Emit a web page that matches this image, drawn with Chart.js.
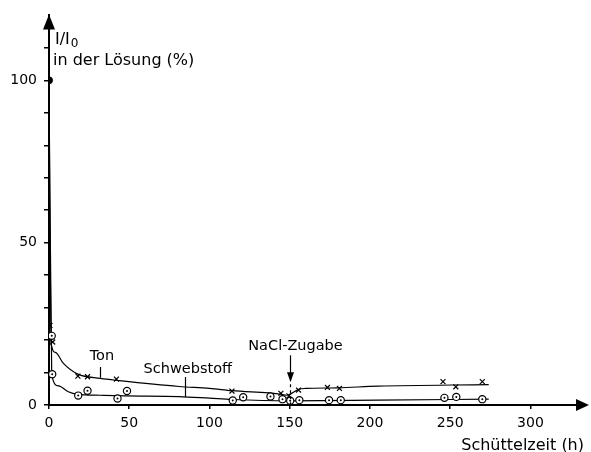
<!DOCTYPE html>
<html>
<head>
<meta charset="utf-8">
<script src="https://cdn.jsdelivr.net/npm/chart.js@4/dist/chart.umd.min.js"></script>
<style>
  html, body { margin: 0; padding: 0; background: #fff; }
  canvas { display: block; }
</style>
</head>
<body>
<canvas id="c" width="591" height="452"></canvas>
<script>
// Shaking time (h) and remaining fraction I/I0 in solution (%)
const startTime = [0];
const startValue = [100];

const tonTime  = [0.6, 2.3, 18, 24, 42, 114, 144.5, 149.5, 155.5, 173.5, 181, 245.5, 253.5, 270];
const tonValue = [24.5, 19.4, 8.9, 8.7, 8.0, 4.3, 3.6, 2.8, 4.6, 5.4, 5.1, 7.2, 5.6, 7.2];

const schwebTime  = [1.7, 2, 18.2, 24, 42.7, 48.6, 114.5, 121, 138, 145.5, 150.3, 156, 174.5, 181.8, 246.4, 253.8, 270];
const schwebValue = [21.3, 9.5, 2.9, 4.4, 2.0, 4.3, 1.4, 2.4, 2.6, 1.8, 1.3, 1.5, 1.5, 1.5, 2.2, 2.5, 1.8];

// Hand-fitted trend curves
const tonFitTime  = [0, 1.2, 4, 9, 18, 32, 44, 81, 100, 114, 145, 148, 156, 160, 180, 205, 274];
const tonFitValue = [100, 19.5, 16.2, 12.8, 9.5, 8.2, 7.5, 5.7, 5.1, 4.4, 3.3, 3.0, 4.9, 5.1, 5.3, 5.8, 6.3];

const schwebFitTime  = [0, 1.7, 6, 12, 18, 32, 48, 81, 100, 114, 150, 205, 274];
const schwebFitValue = [100, 9.2, 5.9, 4.1, 3.3, 3.0, 2.8, 2.6, 2.1, 1.7, 1.3, 1.5, 1.8];

const xTickStep = 50;
const xLabelMax = 300;
const yTickStep = 10;
const yLabelStep = 50;
const yLabelMax = 100;

// Curve labels with leader lines: [text, textX, textY, leaderX, leaderTop, leaderBottom]
const curveLabels = [
  ['Ton', 33, 15.1, 32, 11.7, 8.4],
  ['Schwebstoff', 86.5, 11.1, 84.5, 8.6, 2.5]
];
const naclTime = 150;
const naclLabel = 'NaCl-Zugabe';

const FONT = 'DejaVu Sans';

const pairs = (xs, ys) => xs.map((v, i) => ({ x: v, y: ys[i] }));

const annotations = {
  id: 'annotations',
  afterDraw(chart) {
    const { ctx, scales: { x, y } } = chart;
    ctx.save();
    ctx.fillStyle = '#000';
    ctx.strokeStyle = '#000';

    // axis arrowheads
    const x0 = x.getPixelForValue(0), y0 = y.getPixelForValue(0);
    ctx.beginPath();
    ctx.moveTo(x0, y.top - 1);
    ctx.lineTo(x0 - 6, y.top + 14);
    ctx.lineTo(x0 + 6, y.top + 14);
    ctx.closePath();
    ctx.fill();
    ctx.beginPath();
    ctx.moveTo(x.right + 4, y0);
    ctx.lineTo(x.right - 9, y0 - 6);
    ctx.lineTo(x.right - 9, y0 + 6);
    ctx.closePath();
    ctx.fill();

    // y axis title
    ctx.textBaseline = 'alphabetic';
    ctx.textAlign = 'left';
    ctx.font = `16px "${FONT}"`;
    ctx.fillText('I/I', 55, 44);
    const w = ctx.measureText('I/I').width;
    ctx.font = `12px "${FONT}"`;
    ctx.fillText('0', 55 + w + 1, 47);
    ctx.font = `16px "${FONT}"`;
    ctx.fillText('in der Lösung (%)', 53, 65);

    // x axis title
    ctx.textAlign = 'right';
    ctx.fillText('Schüttelzeit (h)', 584, 450);

    // curve labels
    ctx.font = `14.5px "${FONT}"`;
    ctx.lineWidth = 1.2;
    ctx.textAlign = 'center';
    ctx.textBaseline = 'middle';
    curveLabels.forEach(([t, tx, ty, lx, l1, l2]) => {
      ctx.fillText(t, x.getPixelForValue(tx), y.getPixelForValue(ty));
      ctx.beginPath();
      ctx.moveTo(Math.round(x.getPixelForValue(lx)) + 0.5, y.getPixelForValue(l1));
      ctx.lineTo(Math.round(x.getPixelForValue(lx)) + 0.5, y.getPixelForValue(l2));
      ctx.stroke();
    });

    // NaCl addition marker
    const nx = Math.round(x.getPixelForValue(naclTime)) + 0.5;
    ctx.fillText(naclLabel, nx + 5, y.getPixelForValue(18.1));
    const aTop = y.getPixelForValue(15.3), aTip = y.getPixelForValue(7.0);
    ctx.beginPath();
    ctx.moveTo(nx, aTop);
    ctx.lineTo(nx, aTip - 8);
    ctx.stroke();
    ctx.beginPath();
    ctx.moveTo(nx, aTip);
    ctx.lineTo(nx - 3.5, aTip - 10);
    ctx.lineTo(nx + 3.5, aTip - 10);
    ctx.closePath();
    ctx.fill();
    ctx.setLineDash([3, 3]);
    ctx.beginPath();
    ctx.moveTo(nx, aTip + 2);
    ctx.lineTo(nx, y0);
    ctx.stroke();
    ctx.restore();
  }
};

const hideAbove = limit => ctx => (ctx.tick && ctx.tick.value > limit ? 'rgba(0,0,0,0)' : '#000');

new Chart(document.getElementById('c'), {
  type: 'scatter',
  data: {
    datasets: [
      {
        label: 'Ton',
        data: pairs(tonTime, tonValue),
        pointStyle: 'crossRot',
        pointRadius: 3.5,
        pointBorderWidth: 1.2,
        borderColor: '#000',
        backgroundColor: '#000',
        order: 0
      },
      {
        label: 'Schwebstoff',
        data: pairs(schwebTime, schwebValue),
        pointStyle: 'circle',
        pointRadius: 3.6,
        pointBorderWidth: 1.2,
        borderColor: '#000',
        backgroundColor: '#fff',
        order: 1
      },
      {
        label: 'Schwebstoff centre',
        data: pairs(schwebTime, schwebValue),
        pointStyle: 'circle',
        pointRadius: 1,
        pointBorderWidth: 0,
        borderColor: '#000',
        backgroundColor: '#000',
        order: 0
      },
      {
        label: 'Start',
        data: pairs(startTime, startValue),
        pointStyle: 'circle',
        pointRadius: 3.5,
        borderColor: '#000',
        backgroundColor: '#000',
        order: 0
      },
      {
        label: 'Ton Verlauf',
        type: 'line',
        data: pairs(tonFitTime, tonFitValue),
        showLine: true,
        pointRadius: 0,
        borderColor: '#000',
        borderWidth: 1.2,
        cubicInterpolationMode: 'monotone',
        order: 3
      },
      {
        label: 'Schwebstoff Verlauf',
        type: 'line',
        data: pairs(schwebFitTime, schwebFitValue),
        showLine: true,
        pointRadius: 0,
        borderColor: '#000',
        borderWidth: 1.2,
        cubicInterpolationMode: 'monotone',
        order: 3
      }
    ]
  },
  options: {
    responsive: false,
    animation: false,
    events: [],
    layout: { autoPadding: false, padding: { top: 14, right: 1, left: 0, bottom: 0 } },
    plugins: { legend: { display: false }, tooltip: { enabled: false } },
    scales: {
      x: {
        type: 'linear',
        min: 0,
        max: 334,
        afterFit: s => { s.height = 47; },
        border: { display: true, color: '#000', width: 2 },
        grid: { drawOnChartArea: false, drawTicks: true, tickLength: 4, lineWidth: 1.5, color: hideAbove(xLabelMax) },
        ticks: {
          stepSize: xTickStep,
          padding: 6,
          color: '#000',
          font: { family: FONT, size: 14 },
          maxRotation: 0,
          callback: v => (v % xTickStep === 0 && v <= xLabelMax ? String(v) : '')
        }
      },
      y: {
        type: 'linear',
        min: 0,
        max: 120,
        afterFit: s => { s.width = 49; },
        border: { display: true, color: '#000', width: 2 },
        grid: { drawOnChartArea: false, drawTicks: true, tickLength: 5, lineWidth: 1.5, color: hideAbove(115) },
        ticks: {
          stepSize: yTickStep,
          padding: 7,
          color: '#000',
          font: { family: FONT, size: 14 },
          callback: v => (v % yLabelStep === 0 && v <= yLabelMax ? String(v) : '')
        }
      }
    }
  },
  plugins: [annotations]
});
</script>
</body>
</html>
